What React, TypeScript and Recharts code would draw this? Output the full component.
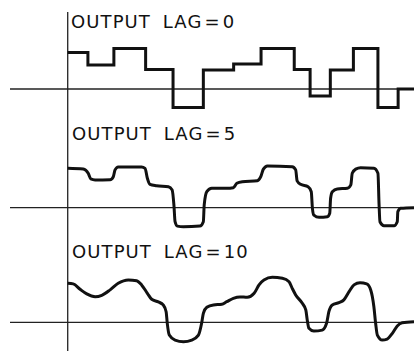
import { LineChart, Line, XAxis, YAxis, ReferenceLine } from "recharts";

// time axis runs 0..120, the baseline line starts a bit left of the vertical axis
const timeDomain: [number, number] = [-20, 120];

// OUTPUT LAG=0 : step input, value holds until next time
const lag0Times = [0, 7, 16, 27, 36.5, 47, 57.5, 67, 78.5, 84, 91, 99, 107.5, 114.5, 120];
const lag0Values = [1.83, 1.2, 2.03, 0.97, -0.92, 0.95, 1.25, 2.03, 0.98, -0.35, 0.95, 2.03, -0.92, 0, 0];

// OUTPUT LAG=5
const lag5Times = [
  0, 5.4, 7.1, 8, 9.5, 14.7, 15.8, 16.4, 17.5, 25.6, 26.8, 27.6, 28.5, 30.8, 34.9, 36.2, 36.8, 37.2, 38, 40.1,
  45.8, 47, 47.3, 48.2, 49.9, 55.1, 57.4, 58.6, 60.5, 65.7, 66.9, 67.8, 69.2, 77.8, 79, 79.5, 80.7, 83.3, 84.4,
  84.8, 85.3, 87.1, 90, 90.8, 91.1, 91.7, 93.4, 96.9, 98.1, 98.6, 99.8, 101.5, 106.1, 107.5, 107.9, 108.2,
  109.6, 113.1, 114.2, 114.4, 115.4, 120,
];
const lag5Values = [
  1.97, 1.93, 1.72, 1.44, 1.39, 1.4, 1.55, 1.89, 2.04, 2.04, 1.97, 1.47, 1.17, 1.1, 1.05, 0.89, 0.14, -0.7, -0.92,
  -0.95, -0.92, -0.7, 0.14, 0.8, 0.97, 0.97, 1.0, 1.22, 1.3, 1.35, 1.55, 1.93, 2.09, 2.05, 1.89, 1.34, 1.17, 1.05,
  0.8, -0.03, -0.37, -0.48, -0.45, -0.28, 0.47, 0.8, 0.94, 0.97, 1.14, 1.72, 1.93, 2.0, 1.97, 1.72, 0.14, -0.7,
  -0.9, -0.9, -0.7, -0.2, -0.03, 0,
];

// OUTPUT LAG=10
const lag10Times = [
  0, 1.9, 4.3, 6.6, 9.5, 11.8, 14.7, 17.5, 21, 23.9, 25.6, 27.6, 29.1, 31.4, 33.1, 34.1, 34.5, 35.2, 37.2, 40.1,
  43, 45.3, 46.4, 47, 48.2, 50.5, 53.4, 55.1, 57.4, 59.7, 62.2, 64.6, 66.3, 68, 70.9, 74.4, 76.7, 77.8, 79, 81.3,
  82.5, 83, 83.6, 85.3, 88.2, 89.7, 90.5, 91.7, 94, 95.7, 97.5, 99.2, 101.3, 103.6, 105, 106.1, 106.7, 107.3,
  109, 110.7, 112.5, 114.2, 115.9, 120,
];
const lag10Values = [
  1.95, 1.92, 1.65, 1.42, 1.28, 1.35, 1.62, 1.95, 2.12, 2.08, 1.87, 1.45, 1.15, 1.02, 0.87, 0.53, -0.05, -0.64,
  -0.89, -0.97, -0.89, -0.64, -0.05, 0.45, 0.75, 0.87, 0.9, 1.03, 1.2, 1.27, 1.25, 1.45, 1.87, 2.12, 2.25, 2.2,
  2.03, 1.7, 1.37, 0.95, 0.62, 0.12, -0.3, -0.44, -0.39, -0.05, 0.53, 0.87, 0.98, 1.12, 1.53, 1.87, 1.98, 1.92,
  1.62, 0.78, -0.05, -0.64, -0.89, -0.84, -0.55, -0.18, -0.02, 0.03,
];

const lagLabels = ["0", "5", "10"];

const zip = (ts: number[], vs: number[]) => ts.map((t, i) => ({ t, v: vs[i] }));

const ink = "#111";

interface PanelProps {
  top: number;
  height: number;
  marginTop: number;
  yDomain: [number, number];
  data: { t: number; v: number }[];
  curve: "stepAfter" | "monotone";
}

function Panel({ top, height, marginTop, yDomain, data, curve }: PanelProps) {
  return (
    <div style={{ position: "absolute", left: 0, top }}>
      <LineChart width={414} height={height} data={data} margin={{ top: marginTop, right: 0, bottom: 0, left: 10 }}>
        <XAxis hide type="number" dataKey="t" domain={timeDomain} allowDataOverflow />
        <YAxis hide type="number" domain={yDomain} allowDataOverflow />
        <ReferenceLine y={0} stroke="#222" strokeWidth={1.3} />
        <ReferenceLine x={0} stroke="#222" strokeWidth={1.3} />
        <Line
          type={curve}
          dataKey="v"
          stroke={ink}
          strokeWidth={3}
          dot={false}
          strokeLinejoin={curve === "stepAfter" ? "miter" : "round"}
          isAnimationActive={false}
        />
      </LineChart>
    </div>
  );
}

function Title({ x, y, lag }: { x: number; y: number; lag: string }) {
  return (
    <text
      x={x}
      y={y}
      fill={ink}
      style={{ fontFamily: "'DejaVu Sans', sans-serif", fontSize: 18, letterSpacing: 1.1, wordSpacing: 5 }}
    >
      OUTPUT LAG
      <tspan dx={2}>=</tspan>
      <tspan dx={2}>{lag}</tspan>
    </text>
  );
}

export default function App() {
  return (
    <div style={{ position: "absolute", left: 0, top: 0, width: 414, height: 351, background: "#fff", overflow: "hidden" }}>
      <Panel top={0} height={118} marginTop={12} yDomain={[-1.45, 3.85]} data={zip(lag0Times, lag0Values)} curve="stepAfter" />
      <Panel top={118} height={116} marginTop={0} yDomain={[-1.315, 4.485]} data={zip(lag5Times, lag5Values)} curve="monotone" />
      <Panel top={234} height={117} marginTop={0} yDomain={[-1.435, 4.415]} data={zip(lag10Times, lag10Values)} curve="monotone" />
      <svg width={414} height={351} style={{ position: "absolute", left: 0, top: 0, pointerEvents: "none" }}>
        <Title x={71} y={28} lag={lagLabels[0]} />
        <Title x={72} y={140} lag={lagLabels[1]} />
        <Title x={72} y={258} lag={lagLabels[2]} />
      </svg>
    </div>
  );
}
